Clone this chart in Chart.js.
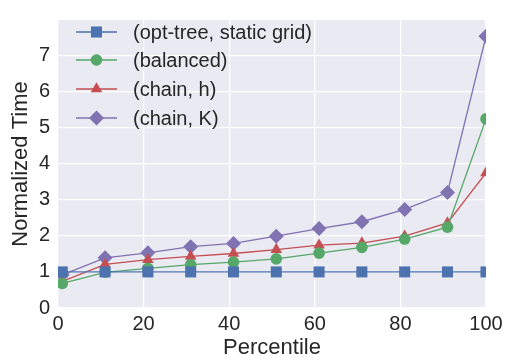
<!DOCTYPE html>
<html>
<head>
<meta charset="utf-8">
<script src="https://cdn.jsdelivr.net/npm/chart.js@4.4.1/dist/chart.umd.min.js"></script>
<style>
    html, body { margin: 0; padding: 0; background: #fff; }
</style>
</head>
<body>
<canvas id="timeChart" width="508" height="364"></canvas>
<script>
/* Normalized time per percentile */
const percentiles = [1, 11, 21, 31, 41, 51, 61, 71, 81, 91, 100];
const optTree  = [1.00, 1.00, 1.00, 1.00, 1.00, 1.00, 1.00, 1.00, 1.00, 1.00, 1.00];
const balanced = [0.68, 0.99, 1.10, 1.20, 1.27, 1.36, 1.52, 1.68, 1.91, 2.24, 5.24];
const chainH   = [0.74, 1.21, 1.34, 1.43, 1.51, 1.62, 1.74, 1.80, 1.99, 2.36, 3.74];
const chainK   = [0.92, 1.39, 1.53, 1.70, 1.79, 1.99, 2.20, 2.39, 2.73, 3.20, 7.53];
const seriesNames = ['(opt-tree, static grid)', '(balanced)', '(chain, h)', '(chain, K)'];
const xTicks = [0, 20, 40, 60, 80, 100];
const yTicks = [0, 1, 2, 3, 4, 5, 6, 7];

(function() {
    'use strict';

    const FONT = '"Liberation Sans", Arial, sans-serif';
    const TEXT = '#262626';

    function toPoints(values) {
        return values.map(function(v, i) { return { x: percentiles[i], y: v }; });
    }

    function makeSet(label, values, color, style, radius) {
        return {
            label: label,
            data: toPoints(values),
            borderColor: color,
            backgroundColor: color,
            borderWidth: 1.3,
            pointStyle: style,
            pointRadius: radius,
            pointHoverRadius: radius,
            pointBorderWidth: 0,
            pointBackgroundColor: color,
            tension: 0
        };
    }

    const plotBackground = {
        id: 'plotBackground',
        beforeDraw: function(chart) {
            const a = chart.chartArea;
            const ctx = chart.ctx;
            ctx.save();
            ctx.fillStyle = '#EAEAF2';
            ctx.fillRect(a.left, a.top, a.right - a.left, a.bottom - a.top);
            ctx.restore();
        }
    };

    // legend sits inside the plot, line with marker in the middle
    const insideLegend = {
        id: 'insideLegend',
        afterDatasetsDraw: function(chart) {
            const ctx = chart.ctx;
            const x0 = 76, x1 = 117, textX = 133;
            const rowY = [32, 60, 89, 118];
            ctx.save();
            chart.data.datasets.forEach(function(ds, i) {
                const y = rowY[i];
                ctx.strokeStyle = ds.borderColor;
                ctx.lineWidth = 1.3;
                ctx.beginPath();
                ctx.moveTo(x0, y);
                ctx.lineTo(x1, y);
                ctx.stroke();
                ctx.fillStyle = ds.backgroundColor;
                ctx.strokeStyle = ds.backgroundColor;
                Chart.helpers.drawPoint(ctx, {
                    pointStyle: ds.pointStyle,
                    radius: ds.pointRadius,
                    rotation: 0,
                    borderWidth: 0
                }, (x0 + x1) / 2, y);
                ctx.fillStyle = TEXT;
                ctx.font = '20px ' + FONT;
                ctx.textBaseline = 'middle';
                ctx.textAlign = 'left';
                ctx.fillText(ds.label, textX, y + 1);
            });
            ctx.restore();
        }
    };

    const ctx = document.getElementById('timeChart').getContext('2d');

    new Chart(ctx, {
        type: 'line',
        data: {
            datasets: [
                makeSet(seriesNames[0], optTree,  '#4C72B0', 'rect', 7.8),
                makeSet(seriesNames[1], balanced, '#55A868', 'circle', 5.8),
                makeSet(seriesNames[2], chainH,   '#C44E52', 'triangle', 6.7),
                makeSet(seriesNames[3], chainK,   '#8172B2', 'rectRot', 7.5)
            ]
        },
        options: {
            responsive: false,
            animation: false,
            layout: {
                padding: { top: 4, right: 22, left: 0, bottom: 0 }
            },
            plugins: {
                legend: { display: false },
                tooltip: { enabled: false }
            },
            scales: {
                x: {
                    type: 'linear',
                    min: 0,
                    max: 100,
                    afterFit: function(scale) { scale.height = 56; },
                    afterBuildTicks: function(scale) {
                        scale.ticks = xTicks.map(function(v) { return { value: v }; });
                    },
                    grid: {
                        color: '#ffffff',
                        lineWidth: 1.3,
                        drawTicks: false
                    },
                    border: { display: false },
                    ticks: {
                        padding: 4,
                        color: TEXT,
                        maxRotation: 0,
                        font: { family: FONT, size: 20 }
                    },
                    title: {
                        display: true,
                        text: 'Percentile',
                        color: TEXT,
                        padding: { top: 0, bottom: 3 },
                        font: { family: FONT, size: 22 }
                    }
                },
                y: {
                    min: 0,
                    max: 7.98,
                    afterFit: function(scale) { scale.width = 58; },
                    afterBuildTicks: function(scale) {
                        scale.ticks = yTicks.map(function(v) { return { value: v }; });
                    },
                    grid: {
                        color: '#ffffff',
                        lineWidth: 1.3,
                        drawTicks: false
                    },
                    border: { display: false },
                    ticks: {
                        padding: 8,
                        color: TEXT,
                        font: { family: FONT, size: 20 }
                    },
                    title: {
                        display: true,
                        text: 'Normalized Time',
                        color: TEXT,
                        padding: { top: 8, bottom: 0 },
                        font: { family: FONT, size: 22 }
                    }
                }
            }
        },
        plugins: [plotBackground, insideLegend]
    });
})();
</script>
</body>
</html>
